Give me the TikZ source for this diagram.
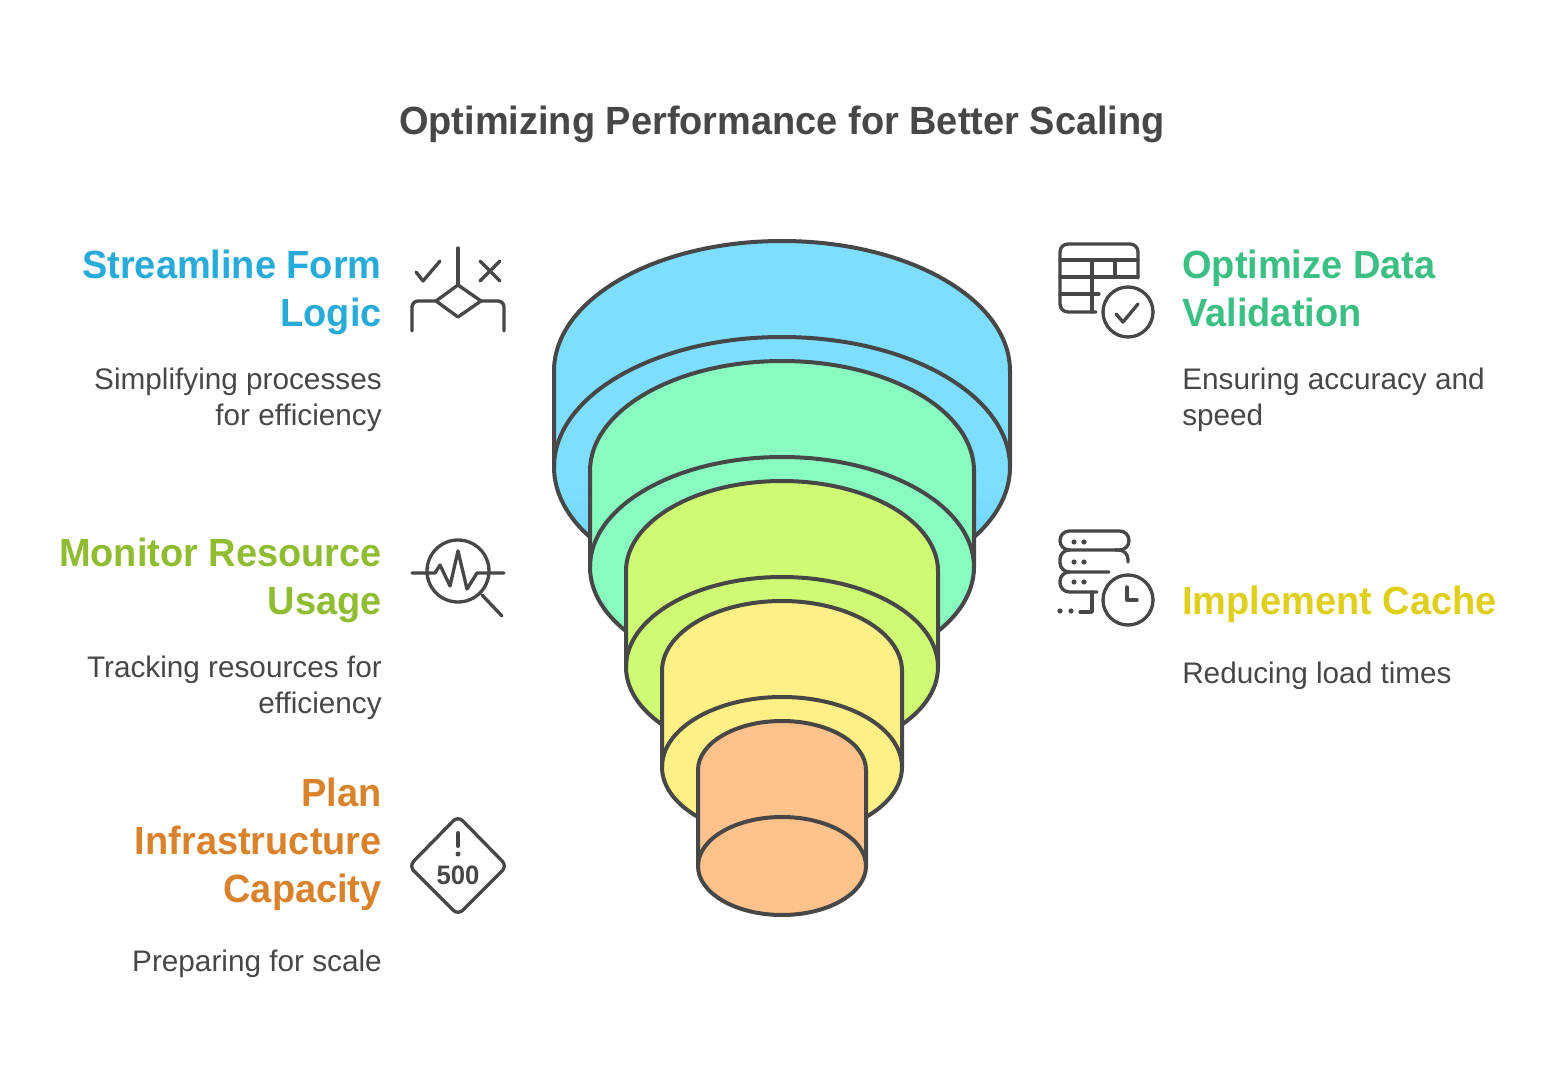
\documentclass[tikz,border=0pt]{standalone}
\usepackage{fontspec}
\setmainfont{Liberation Sans}
\newfontfamily\headfont[FakeStretch=0.965]{Liberation Sans}
\definecolor{ink}{HTML}{474747}
\definecolor{formblue}{HTML}{29ABD9}
\definecolor{usagegreen}{HTML}{8FBC30}
\definecolor{planorange}{HTML}{D9822B}
\definecolor{datagreen}{HTML}{3BBF85}
\definecolor{cacheyellow}{HTML}{DFCF1A}
\pgfdeclareverticalshading{bluefade}{100bp}{rgb(0bp)=(0.36,0.80,1);rgb(16bp)=(0.36,0.80,1);rgb(41bp)=(0.49,0.87,1);rgb(100bp)=(0.49,0.87,1)}
\begin{document}
\begin{tikzpicture}[x=0.75pt,y=-0.75pt,line join=round,line cap=round,
    layer/.style={draw=ink,line width=3pt},
    cylblue/.style={shade,shading=bluefade},
    cylgreen/.style={fill={rgb,255:red,136;green,252;blue,192}},
    cyllime/.style={fill={rgb,255:red,207;green,251;blue,116}},
    cylyellow/.style={fill={rgb,255:red,255;green,240;blue,133}},
    cylorange/.style={fill={rgb,255:red,255;green,194;blue,138}},
    icon/.style={draw=ink,line width=2.5pt},
    head/.style={inner sep=0pt,anchor=north east,align=right,font=\fontsize{29.5pt}{36pt}\headfont\bfseries},
    headr/.style={head,anchor=north west,align=left},
    desc/.style={inner sep=0pt,anchor=north east,align=right,text=ink,font=\fontsize{22.3pt}{27pt}\selectfont},
    descr/.style={desc,anchor=north west,align=left}]
    \useasboundingbox (0,0) rectangle (1564,1084);

    \node[inner sep=0pt,text=ink,font=\fontsize{29.5pt}{36pt}\headfont\bfseries] (title) at (782,124) {Optimizing Performance for Better Scaling};

    % stacked cylinders, wide one first
    \foreach \hw/\tp/\ry/\look in {228/241/130/cylblue,192/361/110/cylgreen,156/481/90/cyllime,120/601/70/cylyellow,84/721/49/cylorange}{
        \draw[layer,\look] (782-\hw,\tp+\ry) arc[start angle=180,end angle=360,x radius=\hw,y radius=\ry]
            -- ++(0,96) arc[start angle=0,end angle=180,x radius=\hw,y radius=\ry] -- cycle;
        \draw[layer] (782-\hw,\tp+\ry+96) arc[start angle=180,end angle=360,x radius=\hw,y radius=\ry];
    }

    % left column
    \node[head,text=formblue] (formhead) at (382,250) {Streamline Form\\Logic};
    \node[desc] (formdesc) at (382,368) {Simplifying processes\\for efficiency};
    \node[head,text=usagegreen] (usagehead) at (382,538) {Monitor Resource\\Usage};
    \node[desc] (usagedesc) at (382,656) {Tracking resources for\\efficiency};
    \node[head,text=planorange] (planhead) at (382,778) {Plan\\Infrastructure\\Capacity};
    \node[desc] (plandesc) at (382,950) {Preparing for scale};

    % right column
    \node[headr,text=datagreen] (datahead) at (1182,250) {Optimize Data\\Validation};
    \node[descr] (datadesc) at (1182,368) {Ensuring accuracy and\\speed};
    \node[headr,text=cacheyellow] (cachehead) at (1182,586) {Implement Cache};
    \node[descr] (cachedesc) at (1182,662) {Reducing load times};

    % branch icon
    \draw[icon] (458,248) -- (458,285);
    \draw[icon] (458,285) -- (481,301) -- (458,317) -- (436,301) -- cycle;
    \draw[icon,rounded corners=4.5pt] (412,331) -- (412,301) -- (436,301);
    \draw[icon,rounded corners=4.5pt] (481,301) -- (504,301) -- (504,331);
    \draw[icon] (416,272) -- (423,281) -- (440,261);
    \draw[icon] (480,261) -- (500,281) (500,261) -- (480,281);

    % pulse icon
    \node[icon,circle,minimum size=46.5pt,inner sep=0pt] (lens) at (458,571) {};
    \draw[icon] (412,573) -- (435,573) -- (440,565) -- (450,586) -- (458,551) -- (467,589) -- (477,573) -- (504,573);
    \draw[icon] (482,595) -- (502,616);

    % limit icon
    \draw[icon,rounded corners=5pt] (458,816) -- (507,866) -- (458,915) -- (409,866) -- cycle;
    \draw[icon,line width=3pt] (458,833) -- (458,846);
    \fill[ink] (458,854) circle[radius=2.5];
    \node[inner sep=0pt,text=ink,font=\fontsize{20pt}{20pt}\headfont\bfseries] (limit) at (458,875) {500};

    % table icon
    \draw[icon,rounded corners=6pt] (1138,278) -- (1138,244) -- (1060,244) -- (1060,312) -- (1096,312);
    \draw[icon] (1060,260) -- (1138,260) (1060,277) -- (1138,277) (1060,294) -- (1099,294);
    \draw[icon] (1092,260) -- (1092,312) (1115,260) -- (1115,277);
    \node[icon,circle,minimum size=37.5pt,inner sep=0pt] (tick) at (1128,312) {};
    \draw[icon] (1116,314) -- (1123,322) -- (1138,304);

    % server icon
    \draw[icon,rounded corners=7pt] (1060,531) rectangle (1129,550);
    \draw[icon,rounded corners=7pt] (1070,550) -- (1060,550) -- (1060,572) -- (1109,572);
    \draw[icon,rounded corners=7pt] (1115,550) -- (1128,550) -- (1128,562);
    \draw[icon,rounded corners=7pt] (1070,572) -- (1060,572) -- (1060,592) -- (1097,592);
    \draw[icon] (1092,592) -- (1092,612) -- (1080,612);
    \foreach \px/\py in {1074/542,1084/542,1074/562,1084/562,1074/582,1084/582,1060/611,1071/611}{
        \fill[ink] (\px,\py) circle[radius=2.6];
    }
    \node[icon,circle,minimum size=37.5pt,inner sep=0pt] (clock) at (1128,600) {};
    \draw[icon] (1127,587) -- (1127,600) -- (1137,600);
\end{tikzpicture}
\end{document}
